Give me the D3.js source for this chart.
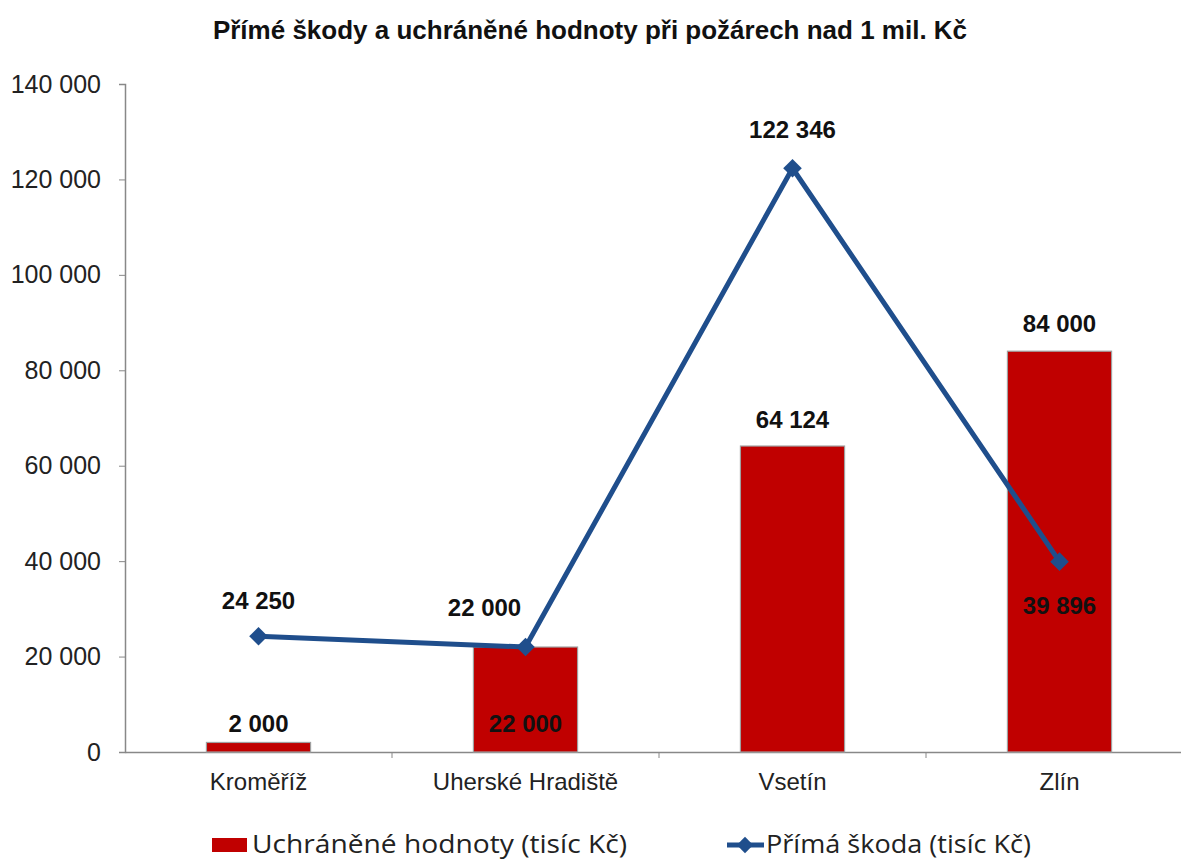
<!DOCTYPE html>
<html><head><meta charset="utf-8">
<script src="https://cdn.jsdelivr.net/npm/d3@7"></script>
<style>body{margin:0;background:#fff;}svg{display:block;}</style>
</head><body>
<svg id="c" width="1181" height="859"></svg>
<script>
const categories = ["Kroměříž", "Uherské Hradiště", "Vsetín", "Zlín"];
const barValues = [2000, 22000, 64124, 84000];
const lineValues = [24250, 22000, 122346, 39896];
const yTicks = [0, 20000, 40000, 60000, 80000, 100000, 120000, 140000];
const title = "Přímé škody a uchráněné hodnoty při požárech nad 1 mil. Kč";
const barName = "Uchráněné hodnoty (tisíc Kč)";
const lineName = "Přímá škoda (tisíc Kč)";

const svg = d3.select("#c");
const fmt = v => d3.format(",")(v).replace(/,/g, " ");
const x = d3.scaleBand().domain(categories).range([125, 1193]).paddingInner(0).paddingOuter(0);
const y = d3.scaleLinear().domain([0, 140000]).range([752, 84]);
const FONT = "Liberation Sans, Arial, sans-serif";

svg.append("text").attr("x", 590).attr("y", 39).attr("text-anchor", "middle")
  .attr("font-family", FONT).attr("font-weight", "bold").attr("font-size", 26)
  .attr("fill", "#111").text(title);

// y axis
const ya = svg.append("g").attr("transform", "translate(125,0)")
  .call(d3.axisLeft(y).tickValues(yTicks).tickFormat(fmt).tickSize(6).tickPadding(18));
ya.select(".domain").attr("stroke", "#888").attr("stroke-width", 1.5);
ya.selectAll(".tick line").attr("stroke", "#888");
ya.selectAll(".tick text").attr("font-family", FONT).attr("font-size", 25).attr("fill", "#222");

// x axis
const xa = svg.append("g").attr("transform", "translate(0,752)")
  .call(d3.axisBottom(x).tickSize(0).tickPadding(21));
xa.select(".domain").attr("stroke", "#888").attr("stroke-width", 1.5);
xa.selectAll(".tick text").attr("font-family", FONT).attr("font-size", 24).attr("fill", "#222");
xa.selectAll(".bt").data(categories.slice(1)).enter().append("line")
  .attr("x1", d => x(d)).attr("x2", d => x(d)).attr("y1", 0).attr("y2", 6).attr("stroke", "#888");

// bars
const bw = x.bandwidth() * 0.39;
svg.append("g").selectAll("rect").data(barValues).enter().append("rect")
  .attr("x", (d, i) => x(categories[i]) + x.bandwidth() / 2 - bw / 2)
  .attr("y", d => y(d)).attr("width", bw).attr("height", d => y(0) - y(d))
  .attr("fill", "#C00000").attr("stroke", "#a0a0a0").attr("stroke-width", 1.2);

// line
const cx = i => x(categories[i]) + x.bandwidth() / 2;
svg.append("path").datum(lineValues)
  .attr("d", d3.line().x((d, i) => cx(i)).y(d => y(d)))
  .attr("fill", "none").attr("stroke", "#1F4E8C").attr("stroke-width", 5).attr("stroke-linejoin", "round");
svg.append("g").selectAll("path").data(lineValues).enter().append("path")
  .attr("d", d3.symbol(d3.symbolDiamond2, 220)())
  .attr("transform", (d, i) => `translate(${cx(i)},${y(d)})`)
  .attr("fill", "#1F4E8C");

const lblFont = s => s.attr("font-family", FONT).attr("font-weight", "bold")
  .attr("font-size", 24).attr("fill", "#111").attr("text-anchor", "middle");

// bar labels
const barLblInside = [false, true, false, false];
const barLblDy = [-10, -20, -18, -19];
svg.append("g").selectAll("text").data(barValues).enter().append("text")
  .attr("x", (d, i) => cx(i))
  .attr("y", (d, i) => (barLblInside[i] ? y(0) : y(d)) + barLblDy[i])
  .call(lblFont).text(fmt);

// line labels
const lineLblDx = [0, -41, 0, 0];
const lineLblDy = [-27, -31, -30, 52];
svg.append("g").selectAll("text").data(lineValues).enter().append("text")
  .attr("x", (d, i) => cx(i) + lineLblDx[i])
  .attr("y", (d, i) => y(d) + lineLblDy[i])
  .call(lblFont).text(fmt);

// legend
const lg = svg.append("g");
lg.append("rect").attr("x", 212).attr("y", 838).attr("width", 35).attr("height", 14).attr("fill", "#C00000");
lg.append("text").attr("x", 252).attr("y", 853).attr("font-family", "Open Sans").attr("font-size", 25)
  .attr("textLength", 375).attr("lengthAdjust", "spacingAndGlyphs")
  .attr("fill", "#222").text(barName);
lg.append("line").attr("x1", 727).attr("x2", 764).attr("y1", 845).attr("y2", 845)
  .attr("stroke", "#1F4E8C").attr("stroke-width", 5);
lg.append("path").attr("d", d3.symbol(d3.symbolDiamond2, 170)()).attr("transform", "translate(745,845)").attr("fill", "#1F4E8C");
lg.append("text").attr("x", 766).attr("y", 853).attr("font-family", "Open Sans").attr("font-size", 25)
  .attr("textLength", 265).attr("lengthAdjust", "spacingAndGlyphs")
  .attr("fill", "#222").text(lineName);
</script>
</body></html>
